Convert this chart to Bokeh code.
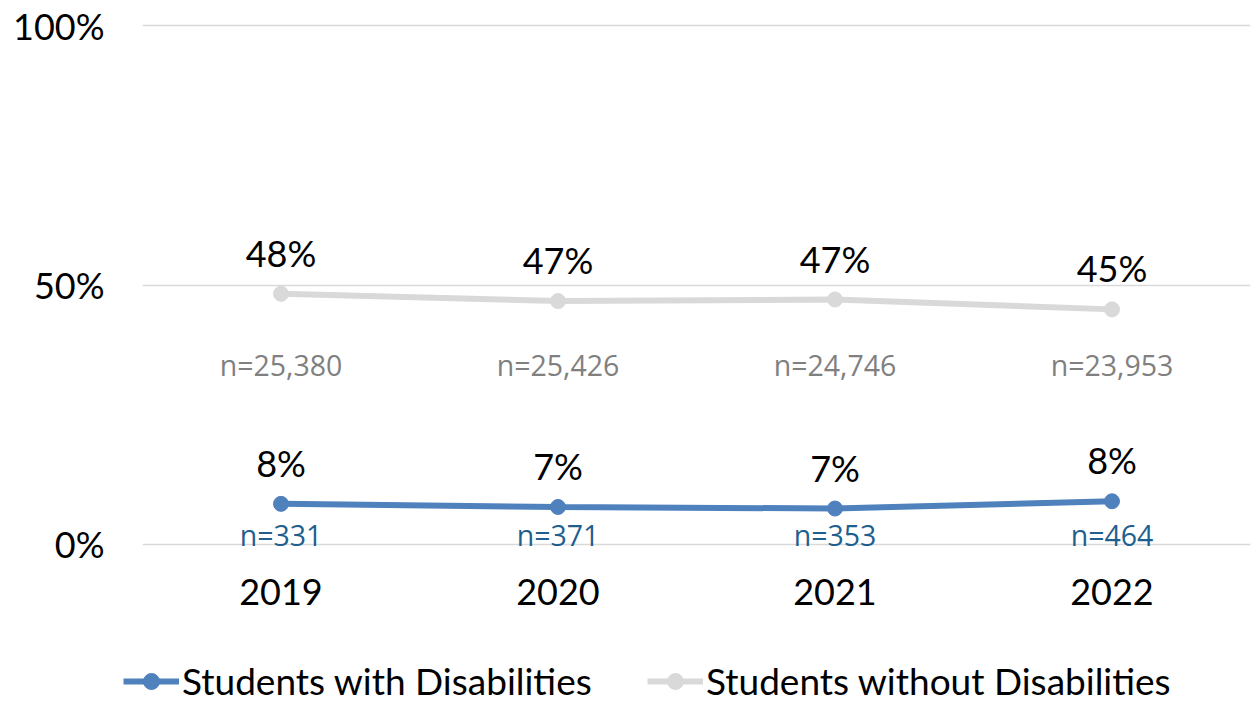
from bokeh.plotting import figure
from bokeh.layouts import column
from bokeh.models import (FactorRange, Range1d, Legend, LegendItem, FixedTicker,
                          PrintfTickFormatter, ColumnDataSource)
from bokeh.core.properties import value
from bokeh.embed import file_html
from bokeh.resources import INLINE

# ---- data ----
years = ["2019", "2020", "2021", "2022"]
with_dis = [7.8, 7.2, 6.9, 8.3]
without_dis = [48.3, 46.9, 47.2, 45.3]
with_labels = ["8%", "7%", "7%", "8%"]
without_labels = ["48%", "47%", "47%", "45%"]
with_n = ["n=331", "n=371", "n=353", "n=464"]
without_n = ["n=25,380", "n=25,426", "n=24,746", "n=23,953"]
y_ticks = [0, 50, 100]
series_names = ["Students with Disabilities", "Students without Disabilities"]

# ---- styles ----
BLUE = "#4f81bd"
GRAY = "#d9d9d9"
BLUE_TXT = "#1f5f8f"
GRAY_TXT = "#808080"
FONT = "Lato"
NFONT = "Open Sans"
# label rows for the n= annotations (percent axis level)
N_ROW_WITHOUT = 34.5
N_ROW_WITH = 1.8

p = figure(width=1256, height=650,
           x_range=FactorRange(factors=years), y_range=Range1d(-1, 101),
           output_backend="svg", toolbar_location=None,
           min_border_left=142, min_border_right=6, min_border_top=20,
           min_border_bottom=101)
p.frame_align = False
p.outline_line_color = None
p.background_fill_color = "white"
p.border_fill_color = "white"

# grid
p.xgrid.grid_line_color = None
p.ygrid.ticker = FixedTicker(ticks=y_ticks)
p.ygrid.grid_line_color = "#d9d9d9"
p.ygrid.grid_line_width = 1.5

# axes
p.yaxis.ticker = FixedTicker(ticks=y_ticks)
p.yaxis.formatter = PrintfTickFormatter(format="%d%%")
for ax in (p.xaxis[0], p.yaxis[0]):
    ax.axis_line_color = None
    ax.major_tick_line_color = None
    ax.minor_tick_line_color = None
    ax.major_tick_in = 0
    ax.major_tick_out = 0
    ax.minor_tick_out = 0
    ax.major_label_text_font = FONT
    ax.major_label_text_font_size = "36px"
    ax.major_label_text_color = "black"
p.yaxis.major_label_standoff = 38
p.xaxis.major_label_standoff = 29

src = ColumnDataSource(dict(x=years, w=with_dis, wo=without_dis,
                            wl=with_labels, wol=without_labels,
                            wn=with_n, won=without_n,
                            wn_y=[N_ROW_WITH] * len(years),
                            won_y=[N_ROW_WITHOUT] * len(years)))

# series
p.line("x", "wo", source=src, line_color=GRAY, line_width=6)
p.scatter("x", "wo", source=src, size=15, fill_color=GRAY, line_color=GRAY)
p.line("x", "w", source=src, line_color=BLUE, line_width=6)
p.scatter("x", "w", source=src, size=15, fill_color=BLUE, line_color=BLUE)

# value labels
for col, lab in (("wo", "wol"), ("w", "wl")):
    p.text("x", col, text=lab, source=src, text_font=value(FONT),
           text_font_size="36px", text_color="black", text_align="center",
           text_baseline="middle", y_offset=-41)

p.text("x", "won_y", text="won", source=src, text_font=value(NFONT),
       text_font_size="28.5px", text_color=GRAY_TXT, text_align="center",
       text_baseline="middle")
p.text("x", "wn_y", text="wn", source=src, text_font=value(NFONT),
       text_font_size="28.5px", text_color=BLUE_TXT, text_align="center",
       text_baseline="middle")

# ---- legend strip (separate figure below the chart) ----
lf = figure(width=1256, height=52, output_backend="svg", toolbar_location=None,
            x_range=FactorRange(factors=years), y_range=Range1d(0, 100),
            x_axis_type=None, y_axis_type=None,
            min_border_left=0, min_border_right=0, min_border_top=0,
            min_border_bottom=0)
lf.frame_align = False
lf.outline_line_color = None
lf.xgrid.grid_line_color = None
lf.ygrid.grid_line_color = None
# legend-key renderers (hidden; they only provide the legend swatches)
lg1 = lf.line("x", "w", source=src, line_color=BLUE, line_width=6, visible=False)
mg1 = lf.scatter("x", "w", source=src, size=15, fill_color=BLUE,
                 line_color=BLUE, visible=False)
lg2 = lf.line("x", "wo", source=src, line_color=GRAY, line_width=6, visible=False)
mg2 = lf.scatter("x", "wo", source=src, size=15, fill_color=GRAY,
                 line_color=GRAY, visible=False)


def make_legend(name, rends, loc):
    return Legend(items=[LegendItem(label=name, renderers=rends)],
                  location=loc, orientation="horizontal",
                  glyph_width=56, glyph_height=40, label_height=40,
                  label_standoff=3, padding=0, margin=0, spacing=0,
                  border_line_color=None, background_fill_alpha=0,
                  inactive_fill_alpha=0, click_policy="none",
                  label_text_font=FONT, label_text_font_size="37px",
                  label_text_color="black")


lf.add_layout(make_legend(series_names[0], [lg1, mg1], (123, -1)))
lf.add_layout(make_legend(series_names[1], [lg2, mg2], (647, -1)))

layout = column(p, lf, spacing=0)
open("out.html", "w").write(file_html(layout, INLINE))
